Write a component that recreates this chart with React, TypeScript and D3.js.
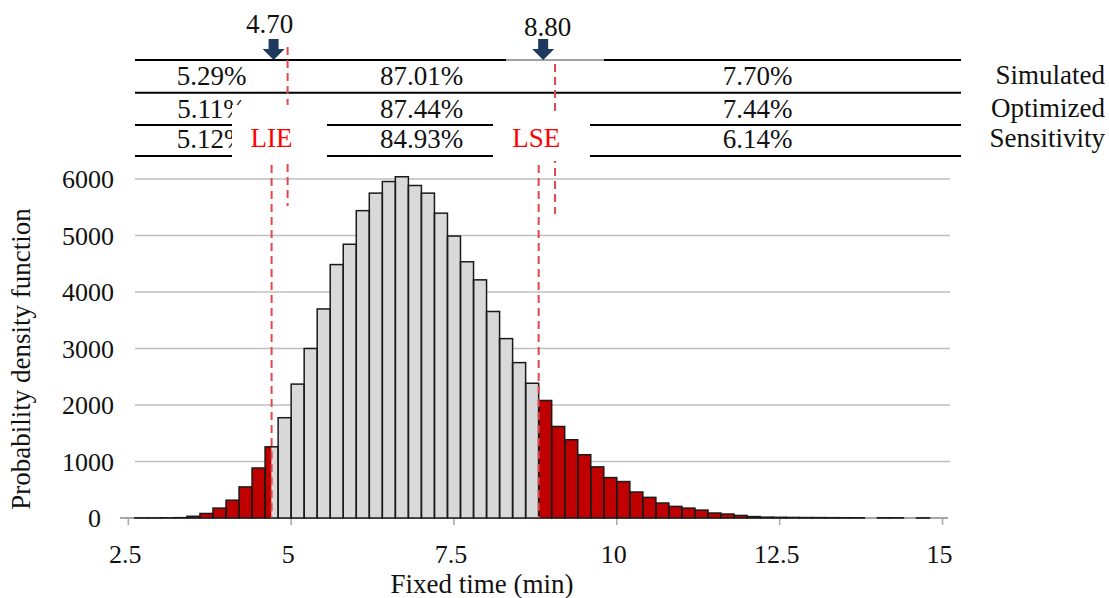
import React from 'react';
import * as d3 from 'd3';

// ---- Data ----
const binStarts = [
  2.6, 2.8, 3.0, 3.2, 3.4, 3.6, 3.8, 4.0, 4.2, 4.4, 4.6, 4.8,
  5.0, 5.2, 5.4, 5.6, 5.8, 6.0, 6.2, 6.4, 6.6, 6.8, 7.0, 7.2, 7.4, 7.6, 7.8,
  8.0, 8.2, 8.4, 8.6, 8.8, 9.0, 9.2, 9.4, 9.6, 9.8,
  10.0, 10.2, 10.4, 10.6, 10.8, 11.0, 11.2, 11.4, 11.6, 11.8,
  12.0, 12.2, 12.4, 12.6, 12.8, 13.0, 13.2, 13.4, 13.6, 13.8,
  14.0, 14.2, 14.4, 14.6,
];
const binCounts = [
  2, 2, 3, 6, 30, 80, 175, 315, 550, 885, 1260, 1775,
  2370, 3000, 3700, 4485, 4845, 5440, 5750, 5955, 6040, 5885, 5750, 5395, 4990, 4535, 4215,
  3655, 3175, 2750, 2385, 2080, 1620, 1385, 1120, 905, 715,
  645, 460, 365, 265, 205, 175, 140, 88, 70, 45,
  25, 15, 12, 10, 8, 7, 6, 5, 4, 0,
  3, 3, 0, 2,
];
const binWidth = 0.2;
const LIE = 4.7;
const LSE = 8.8;
const xTicks = [2.5, 5, 7.5, 10, 12.5, 15];
const xTickLabels = ['2.5', '5', '7.5', '10', '12.5', '15'];
const yTicks = [0, 1000, 2000, 3000, 4000, 5000, 6000];
const rowLabels = ['Simulated', 'Optimized', 'Sensitivity'];
const belowLIE = ['5.29%', '5.11%', '5.12%'];
const betweenLimits = ['87.01%', '87.44%', '84.93%'];
const aboveLSE = ['7.70%', '7.44%', '6.14%'];
const limitLabels = ['4.70', '8.80'];

// ---- Styles ----
const FONT = "'Liberation Serif', 'Times New Roman', serif";
const RED = '#C00000';
const GREY = '#D9D9D9';
const NAVY = '#1F3A5F';
const DASH = '#E0474C';

export default function App() {
  const W = 1109;
  const H = 598;
  const x = d3.scaleLinear().domain([2.5, 15]).range([128.3, 942.5]);
  const y = d3.scaleLinear().domain([0, 6000]).range([518, 179]);

  // bars split into colored segments
  const segs: { x0: number; x1: number; v: number; fill: string; key: string }[] = [];
  binStarts.forEach((a, i) => {
    const b = a + binWidth;
    const v = binCounts[i];
    if (v <= 0) return;
    if (a < LIE) segs.push({ x0: a, x1: Math.min(b, LIE), v, fill: RED, key: `r${i}` });
    const g0 = Math.max(a, LIE), g1 = Math.min(b, LSE);
    if (g1 > g0 + 1e-9) segs.push({ x0: g0, x1: g1, v, fill: GREY, key: `g${i}` });
    if (b > LSE + 1e-9) segs.push({ x0: Math.max(a, LSE), x1: b, v, fill: RED, key: `s${i}` });
  });

  const arrow = (cx: number) =>
    `M${cx - 5},39 L${cx + 5},39 L${cx + 5},49 L${cx + 11},49 L${cx},60 L${cx - 11},49 L${cx - 5},49 Z`;

  const rowLineY = [60, 92.7, 125, 156];
  const rowBase = [85, 118, 148];
  const colCenters = [211.5, 421.7, 757.7];
  const tableL = 135, tableR = 961;

  const xL = x(LIE), xS = x(LSE);

  return (
    <svg width={W} height={H} style={{ position: 'absolute', left: 0, top: 0, background: '#fff' }}
      fontFamily={FONT}>
      <rect x={0} y={0} width={W} height={H} fill="#fff" />
      {/* gridlines */}
      {yTicks.filter(t => t > 0).map(t => (
        <line key={t} x1={135} x2={950} y1={y(t)} y2={y(t)} stroke="#BFBFBF" strokeWidth={1.5} />
      ))}
      {/* y tick labels */}
      {yTicks.map(t => (
        <text key={t} x={t === 0 ? 101 : 114} y={y(t) + 9} fontSize={26} textAnchor="end" fill="#111">
          {d3.format('d')(t)}
        </text>
      ))}
      {/* axis */}
      <line x1={120} x2={948} y1={y(0)} y2={y(0)} stroke="#A6A6A6" strokeWidth={2} />
      {xTicks.map(t => (
        <line key={t} x1={x(t)} x2={x(t)} y1={y(0)} y2={y(0) + 7} stroke="#A6A6A6" strokeWidth={1.5} />
      ))}
      {/* bars */}
      {segs.map(s => (
        <rect key={s.key} x={x(s.x0)} y={y(s.v)} width={x(s.x1) - x(s.x0)} height={y(0) - y(s.v)} fill={s.fill} />
      ))}
      {binStarts.map((a, i) => binCounts[i] > 0 ? (
        <rect key={`o${i}`} x={x(a)} y={y(binCounts[i])} width={x(a + binWidth) - x(a)}
          height={y(0) - y(binCounts[i])} fill="none" stroke="#1a1a1a" strokeWidth={1.5} />
      ) : null)}
      {xTicks.map((t, i) => (
        <text key={t} x={x(t) - 3} y={563} fontSize={26} textAnchor="middle" fill="#111">{xTickLabels[i]}</text>
      ))}
      <text x={482} y={593} fontSize={27} textAnchor="middle" fill="#111">Fixed time (min)</text>
      <text transform={`translate(30,359) rotate(-90)`} fontSize={27} textAnchor="middle" fill="#111">
        Probability density function
      </text>
      {/* limit dashed lines in chart */}
      {[xL, xS].map((px, i) => (
        <line key={i} x1={px} x2={px} y1={165} y2={y(0)} stroke={DASH} strokeWidth={2} strokeDasharray="8,5" />
      ))}

      {/* top table */}
      <line x1={tableL} x2={506} y1={rowLineY[0]} y2={rowLineY[0]} stroke="#000" strokeWidth={2} />
      <line x1={506} x2={604} y1={rowLineY[0]} y2={rowLineY[0]} stroke="#444" strokeWidth={1} />
      <line x1={604} x2={tableR} y1={rowLineY[0]} y2={rowLineY[0]} stroke="#000" strokeWidth={2} />
      {rowLineY.slice(1).map(ly => (
        <line key={ly} x1={tableL} x2={tableR} y1={ly} y2={ly} stroke="#000" strokeWidth={2} />
      ))}
      {rowLabels.map((r, i) => (
        <g key={r}>
          <text x={colCenters[0]} y={rowBase[i]} fontSize={27} textAnchor="middle" fill="#111">{belowLIE[i]}</text>
          <text x={colCenters[1]} y={rowBase[i]} fontSize={27} textAnchor="middle" fill="#111">{betweenLimits[i]}</text>
          <text x={colCenters[2]} y={rowBase[i]} fontSize={27} textAnchor="middle" fill="#111">{aboveLSE[i]}</text>
          <text x={1105} y={rowBase[i] - 1} fontSize={27} textAnchor="end" fill="#111">{r}</text>
        </g>
      ))}
      {/* offset dashed lines of the table overlay */}
      <line x1={xL + 16} x2={xL + 16} y1={47} y2={206} stroke={DASH} strokeWidth={2} strokeDasharray="8,5" />
      <line x1={xS + 16.4} x2={xS + 16.4} y1={64} y2={214} stroke={DASH} strokeWidth={2} strokeDasharray="8,5" />
      {/* label boxes */}
      <rect x={232} y={105} width={95} height={56} fill="#fff" />
      <rect x={493} y={113} width={97} height={48} fill="#fff" />
      <text x={xL} y={147} fontSize={27} textAnchor="middle" fill="#FF0000">LIE</text>
      <text x={xS - 2.5} y={147} fontSize={27} textAnchor="middle" fill="#FF0000">LSE</text>
      {/* arrows */}
      <path d={arrow(xL + 2)} fill={NAVY} />
      <path d={arrow(xS + 4.5)} fill={NAVY} />
      <text x={xL - 2} y={33} fontSize={27} textAnchor="middle" fill="#111">{limitLabels[0]}</text>
      <text x={xS + 9} y={36} fontSize={27} textAnchor="middle" fill="#111">{limitLabels[1]}</text>
    </svg>
  );
}
